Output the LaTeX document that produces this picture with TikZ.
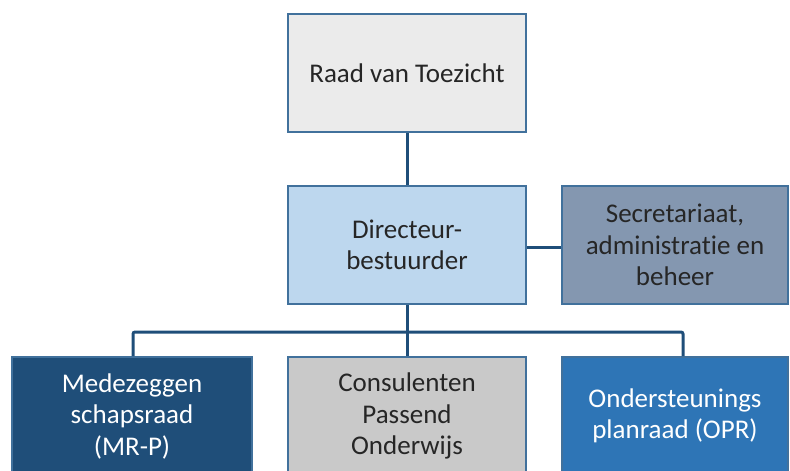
\documentclass[tikz,border=0pt]{standalone}
\usepackage{fontspec}
\setmainfont[Ligatures=CommonOff]{Carlito}
\definecolor{edgeblue}{HTML}{41719C}
\definecolor{connblue}{HTML}{1F4E79}
\definecolor{raadfill}{HTML}{EBEBEB}
\definecolor{dirfill}{HTML}{BDD7EE}
\definecolor{secfill}{HTML}{8497B0}
\definecolor{mrfill}{HTML}{1F4E79}
\definecolor{consfill}{HTML}{C9C9C9}
\definecolor{oprfill}{HTML}{2E75B6}
\definecolor{darktext}{HTML}{262626}
\tikzset{
  orgbox/.style={draw=edgeblue, line width=2pt, inner sep=0pt, align=center,
    font=\fontsize{27}{31.5}\selectfont, text=darktext, minimum height=118pt},
  conn/.style={draw=connblue, line width=3pt}
}
\begin{document}
\begin{tikzpicture}[x=1pt,y=-1pt]
\useasboundingbox (0,0) rectangle (790,471);
\node[orgbox, fill=raadfill, minimum width=238pt] (raad) at (407,73) {Raad van Toezicht};
\node[orgbox, fill=dirfill, minimum width=238pt] (dir) at (407,245) {Directeur-\\bestuurder};
\node[orgbox, fill=secfill, minimum width=226pt] (sec) at (675,245) {Secretariaat,\\administratie en\\beheer};
\node[orgbox, fill=mrfill, minimum width=240pt, text=white] (mr) at (132,416) {Medezeggen\\schapsraad\\(MR-P)};
\node[orgbox, fill=consfill, minimum width=238pt] (cons) at (407,416) {Consulenten\\Passend\\Onderwijs};
\node[orgbox, fill=oprfill, minimum width=226pt, text=white] (opr) at (675,416) {Ondersteunings\\planraad (OPR)};
\coordinate (bus) at (0,332);
\draw[conn] (raad.south) -- (dir.north);
\draw[conn] ([yshift=-2pt]dir.east) -- ([yshift=-2pt]sec.west);
\draw[conn] (dir.south) -- (cons.north);
\draw[conn, rounded corners=2pt] ([xshift=1pt]mr.north) |- ([xshift=8pt]opr.north |- bus) -- ([xshift=8pt]opr.north);
\end{tikzpicture}
\end{document}
